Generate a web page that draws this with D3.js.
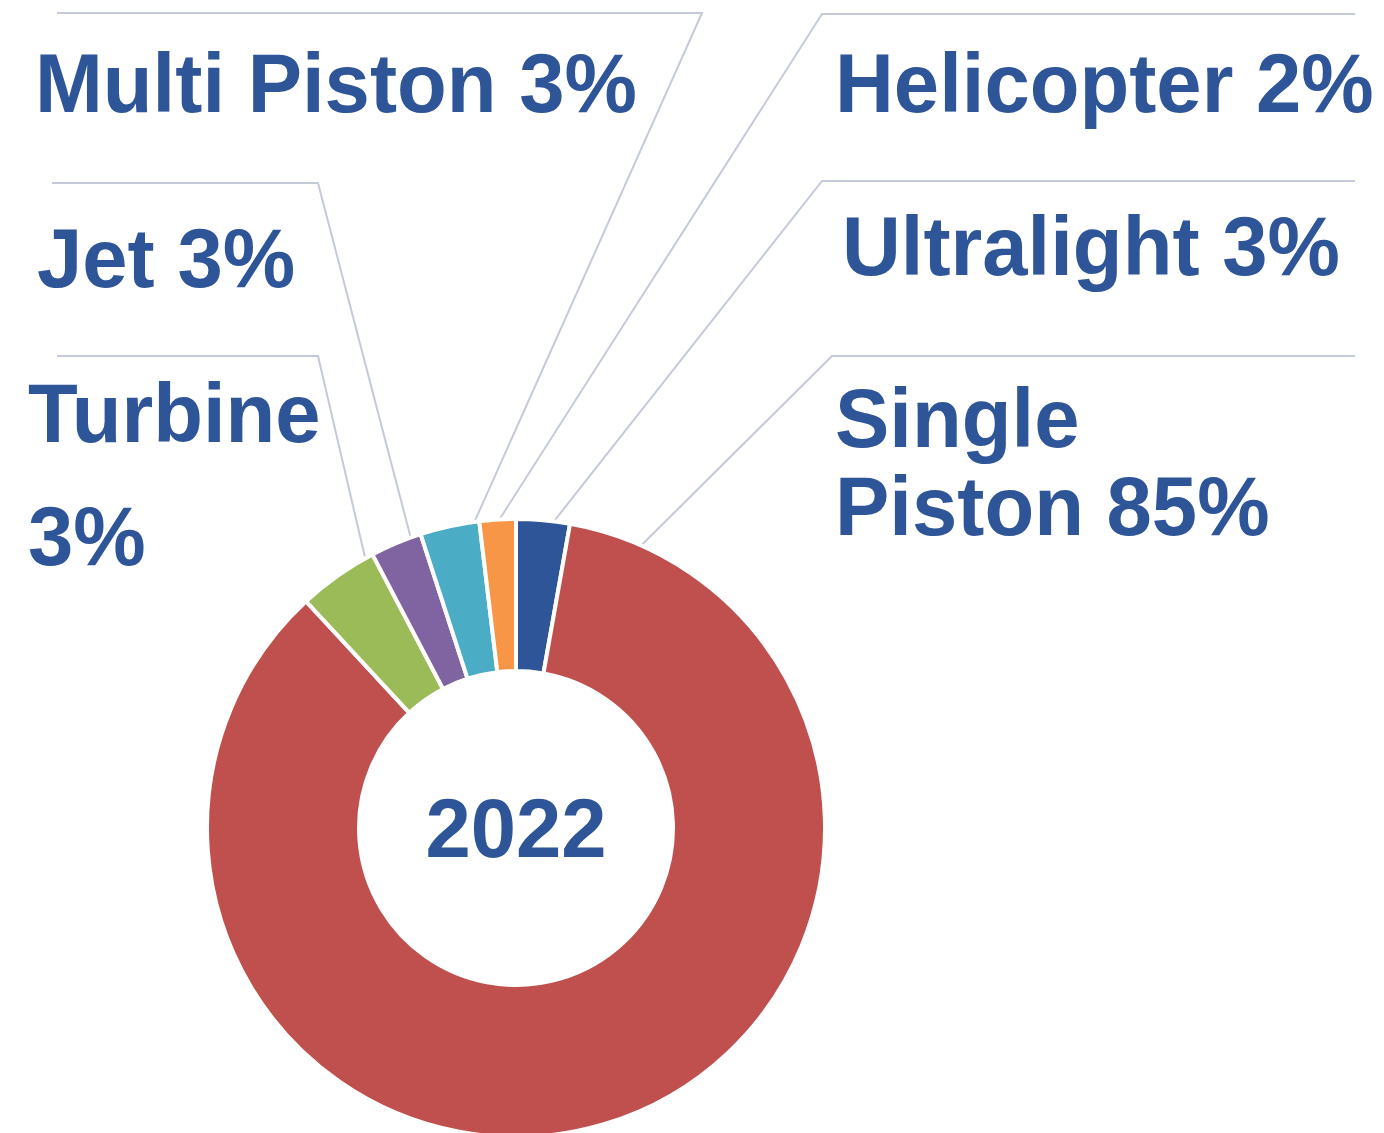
<!DOCTYPE html>
<html>
<head>
<meta charset="UTF-8">
<title>Fleet 2022</title>
<style>
body { margin: 0; background: #fff; }
text { font-family: "Liberation Sans", Arial, sans-serif; font-weight: bold; fill: #2E5597; }
</style>
</head>
<body>
<svg width="1384" height="1133"></svg>
<script src="https://d3js.org/d3.v7.min.js"></script>
<script>
// slices in clockwise order from 12 o'clock
var categories = ["Ultralight", "Single Piston", "Turbine", "Jet", "Multi Piston", "Helicopter"];
var shares = [2.8, 85.4, 4.2, 2.7, 3.1, 1.9];
var pctLabels = ["3%", "85%", "3%", "3%", "3%", "2%"];
var colors = ["#2E5597", "#C0504D", "#9BBB59", "#8064A2", "#4BACC6", "#F79646"];
var centerLabel = "2022";

// label placement (x of text, baselines, leader line: y, far end x, elbow x, where on slice it lands)
var layout = [
  {x: 842, lines: ["Ultralight 3%"], base: [275], ly: 181, lx: 1355, ex: 822, at: 0.7},
  {x: 835, lines: ["Single", "Piston 85%"], base: [447, 535], ly: 356, lx: 1355, ex: 832, at: 0.045},
  {x: 28, lines: ["Turbine", "3%"], base: [442, 565], ly: 356, lx: 57, ex: 318, at: 0.9},
  {x: 37, lines: ["Jet 3%"], base: [287], ly: 183, lx: 52, ex: 318, at: 0.8},
  {x: 35, lines: ["Multi Piston 3%"], base: [112], ly: 13, lx: 57, ex: 702, at: 0.92},
  {x: 835, lines: ["Helicopter 2%"], base: [112], ly: 14, lx: 1355, ex: 822, at: 0.55}
];

var svg = d3.select("svg"),
    cx = 516, cy = 828,
    outerR = 309, innerR = 157,
    fontSize = 84, squeeze = 0.97;

var data = categories.map(function(c, i) {
  return {name: c, value: shares[i], pct: pctLabels[i], color: colors[i], lay: layout[i]};
});

var pie = d3.pie().sort(null).value(function(d) { return d.value; });
var arc = d3.arc().innerRadius(innerR).outerRadius(outerR);
var arcs = pie(data);

// leader lines first so slices sit on top
svg.append("g").selectAll("polyline").data(arcs).enter().append("polyline")
  .attr("points", function(d) {
    var L = d.data.lay;
    var a = d.startAngle + (d.endAngle - d.startAngle) * L.at;
    var px = cx + outerR * Math.sin(a), py = cy - outerR * Math.cos(a);
    return [[L.lx, L.ly], [L.ex, L.ly], [px, py]].join(" ");
  })
  .attr("fill", "none")
  .attr("stroke", "#C5CADB")
  .attr("stroke-width", 2);

var g = svg.append("g").attr("transform", "translate(" + cx + "," + cy + ")");
g.selectAll("path").data(arcs).enter().append("path")
  .attr("d", arc)
  .attr("fill", function(d) { return d.data.color; })
  .attr("stroke", "#fff")
  .attr("stroke-width", 4);

g.append("text")
  .attr("text-anchor", "middle")
  .attr("transform", "translate(0," + (857 - cy) + ") scale(" + squeeze + ",1)")
  .style("font-size", fontSize + "px")
  .text(centerLabel);

// labels
data.forEach(function(d) {
  var L = d.lay;
  L.lines.forEach(function(line, j) {
    svg.append("text")
      .attr("transform", "translate(" + L.x + "," + L.base[j] + ") scale(" + squeeze + ",1)")
      .style("font-size", fontSize + "px")
      .text(line);
  });
});
</script>
</body>
</html>
